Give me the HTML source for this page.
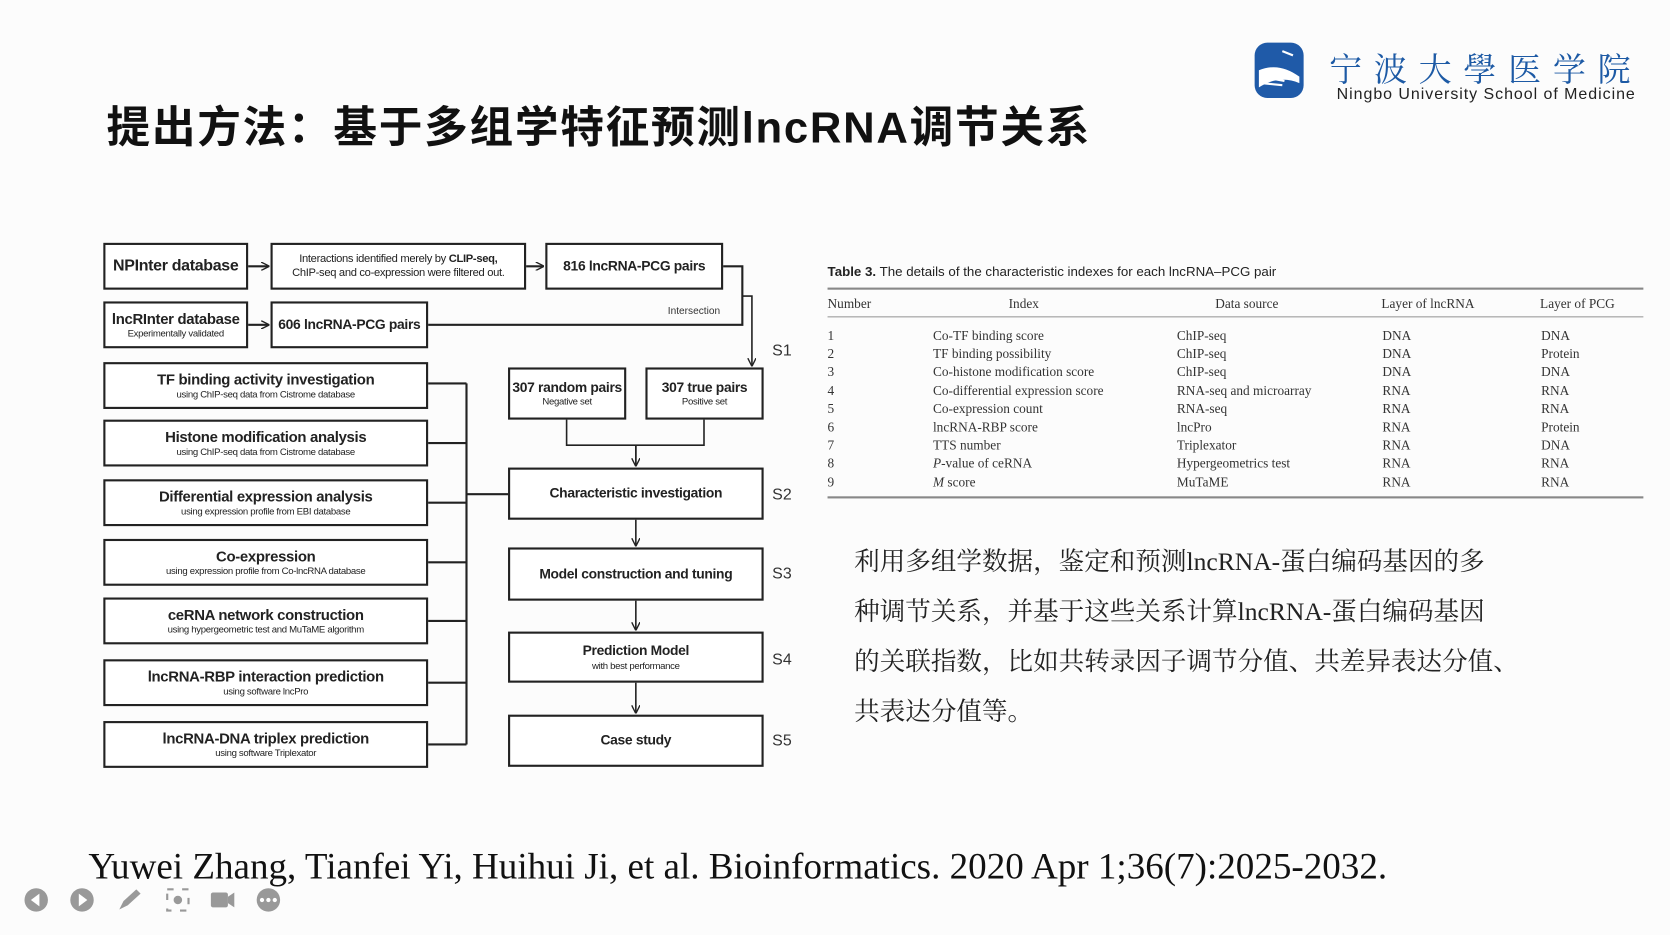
<!DOCTYPE html>
<html><head><meta charset="utf-8"><style>
html,body{margin:0;padding:0;background:#fcfcfc;overflow:hidden;width:1670px;height:935px}
#s{position:absolute;left:0;top:0;width:1568px;height:878px;transform:scale(1.06505);transform-origin:0 0;font-family:"Liberation Sans","Noto Sans CJK SC",sans-serif;color:#111}
.a{position:absolute;white-space:nowrap}
.b{position:absolute;border:2px solid #222;box-sizing:border-box;background:#fff;display:flex;flex-direction:column;justify-content:center;align-items:center;font-weight:bold;font-size:13px;color:#222;line-height:1.25;letter-spacing:-0.3px}
.b small{font-weight:normal;font-size:9px}
.tb{position:absolute;font-family:"Liberation Serif",serif;font-size:12.5px;color:#333}
.cn{font-family:"Liberation Serif","Noto Serif CJK SC",serif;font-size:24px;color:#222;position:absolute;left:802px;white-space:nowrap}
</style></head><body><div id="s">
<div class="a" style="left:100px;top:86px;font-size:41px;font-weight:bold;letter-spacing:1.6px">提出方法：基于多组学特征预测lncRNA调节关系</div>
<svg class="a" style="left:1176px;top:38px" width="50" height="56"><rect x="2" y="2" width="46" height="52" rx="12" fill="#1f5aa8"/><path d="M6 28 Q25 20 44 34 L44 40 Q25 32 6 44Z" fill="#fff"/><path d="M8 34 L30 38 M8 40 L28 42" stroke="#fff" stroke-width="2"/><path d="M28 10 L38 14" stroke="#fff" stroke-width="2"/></svg>
<div class="a" style="left:1248px;top:40px;font-family:'Noto Serif CJK SC',serif;font-size:31px;color:#1d5aa5;letter-spacing:11px">宁波大學医学院</div>
<div class="a" style="left:1255px;top:80px;font-size:15px;letter-spacing:0.9px;color:#222">Ningbo University School of Medicine</div>

<div class="b" style="left:97px;top:228px;width:136px;height:44px;font-size:15px">NPInter database</div>
<div class="b" style="left:254px;top:228px;width:240px;height:44px;font-weight:normal;font-size:10.5px">Interactions identified merely by <b style="display:contents">CLIP-seq,</b><span>ChIP-seq and co-expression were filtered out.</span></div>
<div class="b" style="left:512px;top:228px;width:167px;height:44px">816 lncRNA-PCG pairs</div>
<div class="b" style="left:97px;top:283px;width:136px;height:44px;font-size:14px">lncRInter database<small>Experimentally validated</small></div>
<div class="b" style="left:254px;top:283px;width:148px;height:44px">606 lncRNA-PCG pairs</div>
<div class="b" style="left:97px;top:340px;width:305px;height:44px;font-size:14px">TF binding activity investigation<small>using ChIP-seq data from Cistrome database</small></div>
<div class="b" style="left:97px;top:394px;width:305px;height:44px;font-size:14px">Histone modification analysis<small>using ChIP-seq data from Cistrome database</small></div>
<div class="b" style="left:97px;top:450px;width:305px;height:44px;font-size:14px">Differential expression analysis<small>using expression profile from EBI database</small></div>
<div class="b" style="left:97px;top:506px;width:305px;height:44px;font-size:14px">Co-expression<small>using expression profile from Co-lncRNA database</small></div>
<div class="b" style="left:97px;top:561px;width:305px;height:44px;font-size:14px">ceRNA network construction<small>using hypergeometric test and MuTaME algorithm</small></div>
<div class="b" style="left:97px;top:619px;width:305px;height:44px;font-size:14px">lncRNA-RBP interaction prediction<small>using software lncPro</small></div>
<div class="b" style="left:97px;top:677px;width:305px;height:44px;font-size:14px">lncRNA-DNA triplex prediction<small>using software Triplexator</small></div>
<div class="b" style="left:477px;top:345px;width:111px;height:49px">307 random pairs<small>Negative set</small></div>
<div class="b" style="left:606px;top:345px;width:111px;height:49px">307 true pairs<small>Positive set</small></div>
<div class="b" style="left:477px;top:439px;width:240px;height:49px">Characteristic investigation</div>
<div class="b" style="left:477px;top:514px;width:240px;height:50px">Model construction and tuning</div>
<div class="b" style="left:477px;top:593px;width:240px;height:48px">Prediction Model<small>with best performance</small></div>
<div class="b" style="left:477px;top:671px;width:240px;height:49px">Case study</div>
<div class="a" style="left:627px;top:287px;font-size:9.5px;color:#333">Intersection</div>
<div class="a" style="left:725px;top:321px;font-size:15px;color:#333">S1</div>
<div class="a" style="left:725px;top:456px;font-size:15px;color:#333">S2</div>
<div class="a" style="left:725px;top:530px;font-size:15px;color:#333">S3</div>
<div class="a" style="left:725px;top:611px;font-size:15px;color:#333">S4</div>
<div class="a" style="left:725px;top:687px;font-size:15px;color:#333">S5</div>
<svg class="a" style="left:0;top:0" width="760" height="760" fill="none" stroke="#222" stroke-width="2">
<defs><marker id="m" markerWidth="8" markerHeight="8" refX="7" refY="4" orient="auto" markerUnits="userSpaceOnUse"><path d="M0 0 L8 4 L0 8" fill="none" stroke="#222" stroke-width="1.3"/></marker></defs>
<path d="M233 250 H252" marker-end="url(#m)"/><path d="M494 250 H510" marker-end="url(#m)"/><path d="M233 305 H252" marker-end="url(#m)"/>
<path d="M679 250 H697 V305 H402"/><path d="M697 278 H706 V343" stroke-width="1.5" marker-end="url(#m)"/>
<path d="M402 360 H438 M402 416 H438 M402 472 H438 M402 528 H438 M402 583 H438 M402 641 H438 M402 699 H438 M438 360 V699 M438 464 H477"/>
<path d="M532 394 V418 H661 V394 M597 418 V437" stroke-width="1.5"/><path d="M597 418 V437" stroke-width="1.5" marker-end="url(#m)"/>
<path d="M597 488 V512" stroke-width="1.5" marker-end="url(#m)"/><path d="M597 564 V591" stroke-width="1.5" marker-end="url(#m)"/><path d="M597 641 V669" stroke-width="1.5" marker-end="url(#m)"/>
</svg>

<div class="a" style="left:777px;top:248px;font-size:12.5px;color:#222"><b>Table 3.</b> The details of the characteristic indexes for each lncRNA–PCG pair</div>
<div class="a" style="left:777px;top:270px;width:766px;height:2px;background:#888"></div>
<div class="a" style="left:777px;top:297px;width:766px;height:1px;background:#999"></div>
<div class="a" style="left:777px;top:466px;width:766px;height:2px;background:#888"></div>
<div class="tb" style="left:777px;top:278px">Number</div><div class="tb" style="left:947px;top:278px">Index</div><div class="tb" style="left:1141px;top:278px">Data source</div><div class="tb" style="left:1297px;top:278px">Layer of lncRNA</div><div class="tb" style="left:1446px;top:278px">Layer of PCG</div>
<div class="tb" style="left:777px;top:307px;line-height:17.2px">1<br>2<br>3<br>4<br>5<br>6<br>7<br>8<br>9</div>
<div class="tb" style="left:876px;top:307px;line-height:17.2px">Co-TF binding score<br>TF binding possibility<br>Co-histone modification score<br>Co-differential expression score<br>Co-expression count<br>lncRNA-RBP score<br>TTS number<br><i>P</i>-value of ceRNA<br><i>M</i> score</div>
<div class="tb" style="left:1105px;top:307px;line-height:17.2px">ChIP-seq<br>ChIP-seq<br>ChIP-seq<br>RNA-seq and microarray<br>RNA-seq<br>lncPro<br>Triplexator<br>Hypergeometrics test<br>MuTaME</div>
<div class="tb" style="left:1298px;top:307px;line-height:17.2px">DNA<br>DNA<br>DNA<br>RNA<br>RNA<br>RNA<br>RNA<br>RNA<br>RNA</div>
<div class="tb" style="left:1447px;top:307px;line-height:17.2px">DNA<br>Protein<br>DNA<br>RNA<br>RNA<br>Protein<br>DNA<br>RNA<br>RNA</div>

<div class="cn" style="top:507px">利用多组学数据，鉴定和预测lncRNA-蛋白编码基因的多</div>
<div class="cn" style="top:554px">种调节关系，并基于这些关系计算lncRNA-蛋白编码基因</div>
<div class="cn" style="top:601px">的关联指数，比如共转录因子调节分值、共差异表达分值、</div>
<div class="cn" style="top:648px">共表达分值等。</div>

<div class="a" style="left:83px;top:794px;font-family:'Liberation Serif',serif;font-size:34.8px;color:#111">Yuwei Zhang, Tianfei Yi, Huihui Ji, et al. Bioinformatics. 2020 Apr 1;36(7):2025-2032.</div>
<svg class="a" style="left:20px;top:832px" width="260" height="28" fill="#999">
<circle cx="14" cy="13" r="11"/><path d="M17 7 L9 13 L17 19Z" fill="#fff"/>
<circle cx="57" cy="13" r="11"/><path d="M54 7 L62 13 L54 19Z" fill="#fff"/>
<path d="M92 22 L96 14 L108 3 L112 7 L100 18Z"/>
<rect x="137" y="3" width="20" height="20" fill="none" stroke="#999" stroke-width="2" stroke-dasharray="6 8"/><circle cx="147" cy="13" r="4"/>
<rect x="178" y="6" width="16" height="14" rx="2"/><path d="M194 10 L200 6 V20 L194 16Z"/>
<circle cx="232" cy="13" r="11"/><circle cx="226" cy="13" r="2" fill="#fff"/><circle cx="232" cy="13" r="2" fill="#fff"/><circle cx="238" cy="13" r="2" fill="#fff"/>
</svg>
</div></body></html>
